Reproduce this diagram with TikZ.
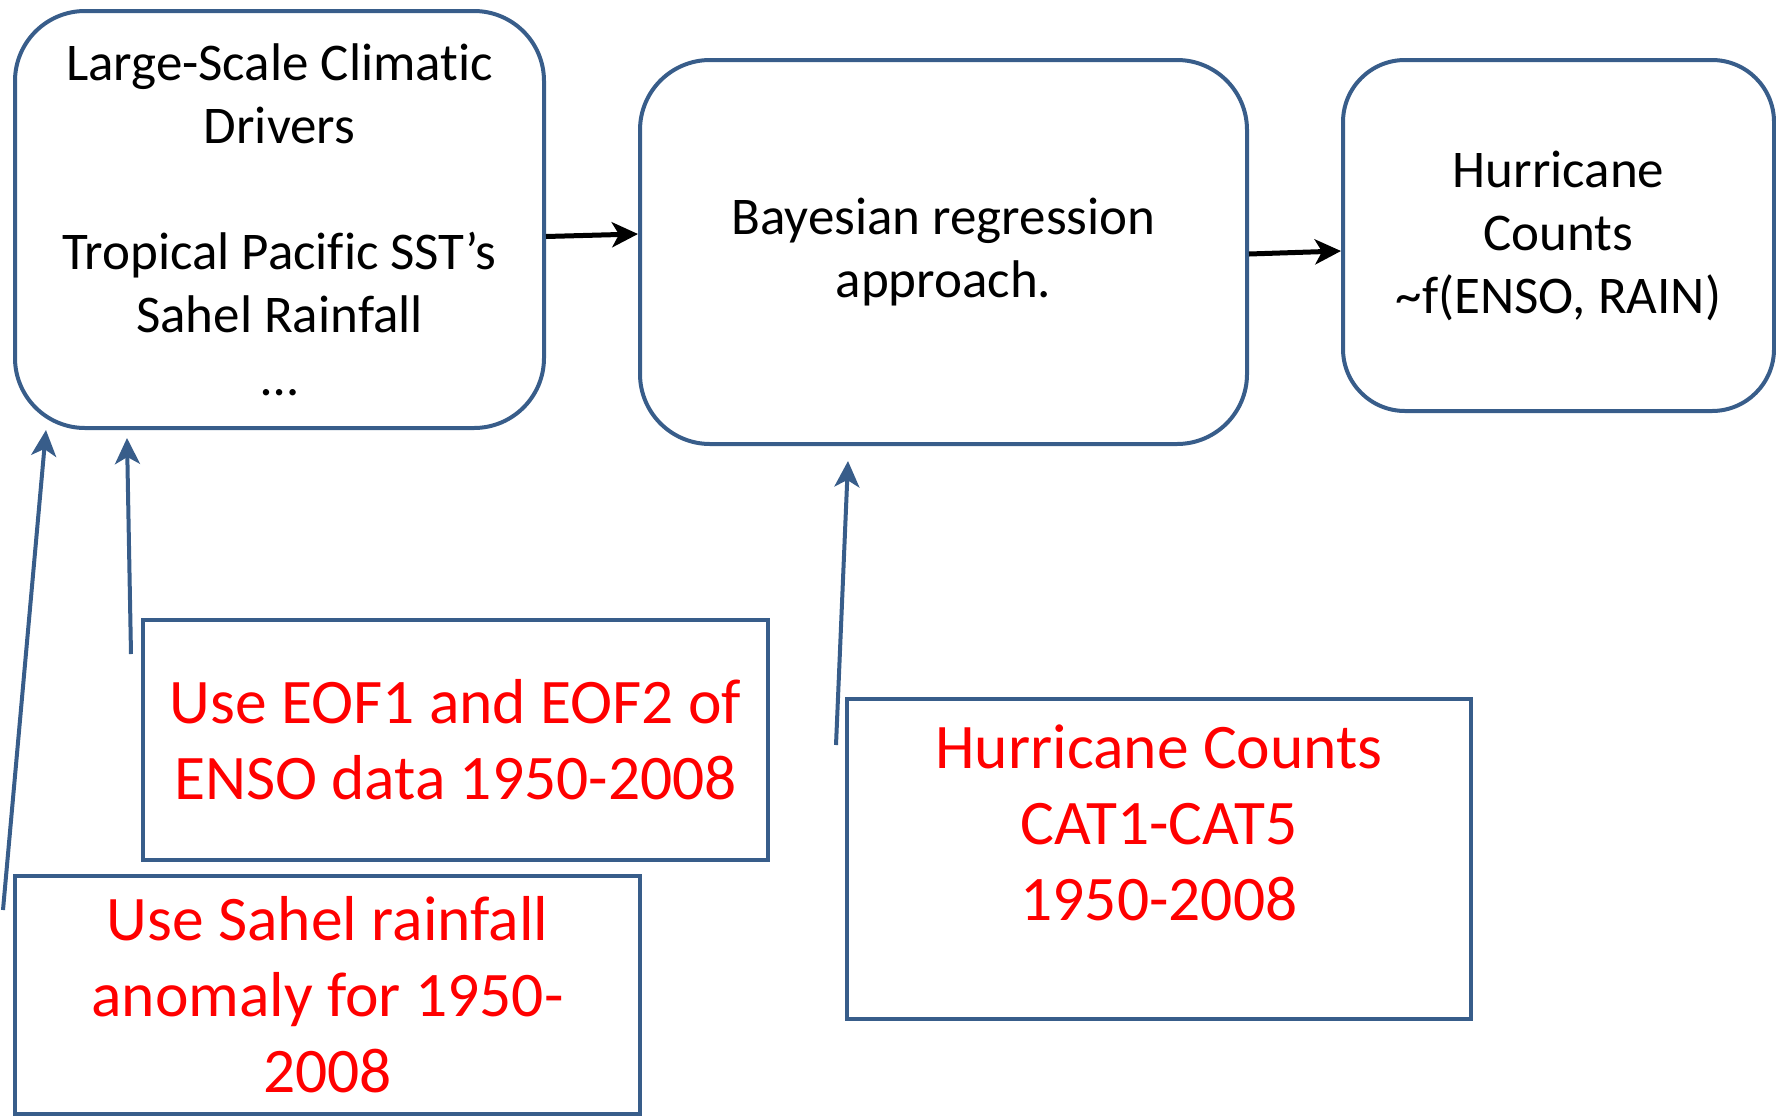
\documentclass[tikz,border=0pt]{standalone}
\usepackage{fontspec}
\setmainfont[Ligatures=NoCommon]{Carlito}
\usetikzlibrary{arrows.meta}
\definecolor{boxblue}{RGB}{56,93,138}
\definecolor{notered}{RGB}{255,0,0}

\begin{document}
\begin{tikzpicture}[x=1pt,y=-1pt,>={Stealth[length=26pt,width=25pt,inset=7pt]}]
	\tikzstyle{stage}=[rectangle, rounded corners=70pt, draw=boxblue, line width=4pt, align=center, font=\fontsize{53}{63}\selectfont, inner sep=0pt]
	\tikzstyle{datanote}=[rectangle, draw=boxblue, line width=4pt, inner sep=0pt]
	\tikzstyle{notetext}=[align=center, text=notered, font=\fontsize{63.5}{76}\selectfont, inner sep=0pt]
	\tikzstyle{feed}=[->, draw=boxblue, line width=4pt]
	\tikzstyle{flow}=[->, draw=black, line width=5pt]

	\useasboundingbox (0,0) rectangle (1776,1117);

	% main chain
	\node [stage, minimum width=529pt, minimum height=417pt] (drivers) at (279.5,219.5) {Large-Scale Climatic\\Drivers\\[63pt]Tropical Pacific SST’s\\Sahel Rainfall\\…};
	\node [stage, minimum width=607pt, minimum height=384pt] (bayes) at (943.5,252) {Bayesian regression\\approach.};
	\node [stage, rounded corners=62pt, minimum width=431pt, minimum height=351pt] (counts) at (1558.5,235.5) {Hurricane\\Counts\\\textasciitilde f(ENSO, RAIN)};

	\draw [flow] ([yshift=-17pt]drivers.east) -- ([yshift=18pt]bayes.west);
	\draw [flow] ([yshift=-2pt]bayes.east) -- ([yshift=-15.5pt]counts.west);

	% data boxes
	\node [datanote, minimum width=625pt, minimum height=240pt] (eof) at (455.5,740) {};
	\node [notetext] (eoftext) at (eof.center) {Use EOF1 and EOF2 of\\ENSO data 1950-2008};
	\node [datanote, minimum width=625pt, minimum height=238pt] (sahel) at (327.5,995) {};
	\node [notetext] (saheltext) at (sahel.center) {Use Sahel rainfall\\anomaly for 1950-\\2008};
	\node [datanote, minimum width=624pt, minimum height=320pt] (cat) at (1159,859) {};
	\node [notetext, anchor=north] (cattext) at (1159,725) {Hurricane Counts\\CAT1-CAT5\\1950-2008};

	% feeds into the chain
	\coordinate (sahelfeed) at (3,910);
	\coordinate (eoffeed) at (131,654);
	\coordinate (catfeed) at (836,745);
	\draw [feed] (sahelfeed) -- ([xshift=33pt]drivers.south west);
	\draw [feed] (eoffeed) -- ([xshift=114pt,yshift=-8pt]drivers.south west);
	\draw [feed] (catfeed) -- ([xshift=-95.5pt,yshift=-15pt]bayes.south);
\end{tikzpicture}
\end{document}
